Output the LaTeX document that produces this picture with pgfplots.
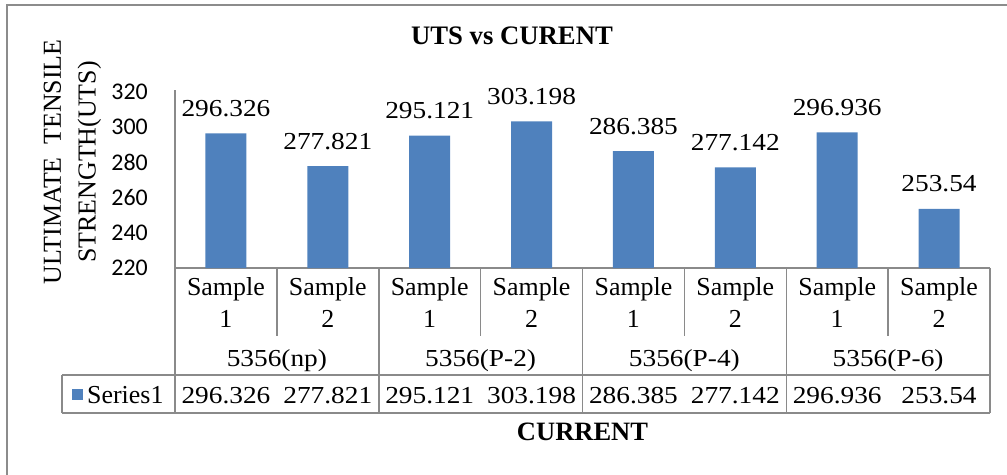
\documentclass[border=0pt]{standalone}
\usepackage{pgfplots}
\pgfplotsset{compat=1.18}
\usepackage{pgfplotstable}
\usepackage{fontspec}
\setmainfont{Liberation Serif}
\newfontfamily\numfont[FakeStretch=1.12]{Liberation Serif}
\newfontfamily\tickfont{Carlito}
\definecolor{barblue}{HTML}{4F81BD}
\definecolor{gridgray}{HTML}{8A8A8A}
\definecolor{framegray}{HTML}{8C8C8C}
\newcommand\tfont{\fontsize{26}{32}\selectfont}
\newcommand\nfont{\numfont\fontsize{24.5}{30}\selectfont}
\newcommand\lfont{\fontsize{26}{35}\selectfont}

\pgfplotstableread{
x y base
0 296.326 220
1 277.821 220
2 295.121 220
3 303.198 220
4 286.385 220
5 277.142 220
6 296.936 220
7 253.54 220
}\uts

\begin{document}
\begin{tikzpicture}[x=1bp,y=1bp]
\useasboundingbox (0,0) rectangle (1007,-475);
\draw[framegray, line width=2bp] (7,-480) -- (7,-5) -- (1012,-5);
\begin{axis}[
  at={(175bp,-268bp)}, anchor=south west,
  scale only axis, width=815bp, height=178bp,
  xmin=-0.5, xmax=7.5, ymin=220, ymax=321,
  ytick={220,240,...,320},
  xtick={0,...,7},
  xticklabels={{Sample\\1},{Sample\\2},{Sample\\1},{Sample\\2},{Sample\\1},{Sample\\2},{Sample\\1},{Sample\\2}},
  xticklabel style={font=\tfont, align=center, anchor=north, inner sep=0pt, yshift=-9bp},
  yticklabel style={font=\tickfont\fontsize{24}{28}\selectfont, anchor=east, inner sep=0pt, xshift=-27bp},
  /pgf/number format/assume math mode=true,
  axis x line*=bottom, axis y line*=left,
  axis line style={gridgray, line width=1.5bp, -},
  major tick length=0pt,
  tick style={draw=none},
  clip=false,
  title={UTS vs CURENT},
  title style={font=\bfseries\fontsize{26.8}{32}\selectfont, at={(axis description cs:0.4135,1.27)}, anchor=center},
  ylabel={ULTIMATE\ \ TENSILE\\STRENGTH(UTS)},
  ylabel style={font=\lfont, align=center, at={(axis description cs:-0.1258,0.596)}, anchor=center},
  xlabel={CURRENT},
  xlabel style={font=\bfseries\fontsize{26.6}{32}\selectfont, at={(axis description cs:0.5,-0.921)}, anchor=center},
]
\addplot[ybar, bar width=41bp, fill=barblue, draw=none,
  nodes near coords, point meta=explicit symbolic,
  nodes near coords style={font=\nfont, anchor=base, inner sep=0pt, yshift=17bp, text=black}]
  table[x=x, y=y, meta=y] {\uts};
\addplot[draw=none, mark=none,
  nodes near coords, point meta=explicit symbolic,
  nodes near coords style={font=\nfont, anchor=base, inner sep=0pt, yshift=-135bp, text=black}]
  table[x=x, y=base, meta=y] {\uts};
\node[font=\nfont, anchor=base, inner sep=0pt, yshift=-98bp] at (axis cs:0.5,220) {5356(np)};
\node[font=\nfont, anchor=base, inner sep=0pt, yshift=-98bp] at (axis cs:2.5,220) {5356(P-2)};
\node[font=\nfont, anchor=base, inner sep=0pt, yshift=-98bp] at (axis cs:4.5,220) {5356(P-4)};
\node[font=\nfont, anchor=base, inner sep=0pt, yshift=-98bp] at (axis cs:6.5,220) {5356(P-6)};
\end{axis}
\begin{scope}[gridgray, line width=1.5bp]
\foreach \k in {1,3,5,7} { \draw (175+\k*101.875,-268) -- (175+\k*101.875,-336); }
\foreach \k in {0,2,4,6,8} { \draw (175+\k*101.875,-268) -- (175+\k*101.875,-413); }
\draw (62,-375) -- (990,-375);
\draw (62,-413) -- (990,-413);
\draw (62,-375) -- (62,-413);
\end{scope}
\fill[barblue] (72,-389) rectangle (83,-400);
\node[font=\tfont, anchor=base west, inner sep=0pt] at (87,-403) {Series1};
\end{tikzpicture}
\end{document}
